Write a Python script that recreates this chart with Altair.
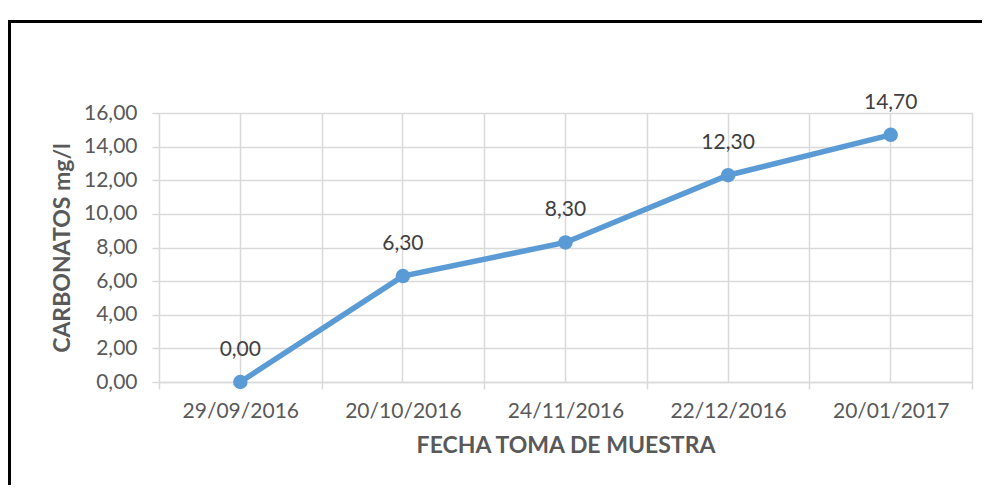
import altair as alt
import pandas as pd

fechas = ["29/09/2016", "20/10/2016", "24/11/2016", "22/12/2016", "20/01/2017"]
carbonatos = [0.0, 6.3, 8.3, 12.3, 14.7]
y_ticks = [0, 2, 4, 6, 8, 10, 12, 14, 16]

df = pd.DataFrame({"fecha": fechas, "valor": carbonatos})

FONT = "Lato"
BLUE = "#5B9BD5"
GRID = "#D9D9D9"
TXT = "#595959"

W, H = 813, 269

x_main = alt.X(
    "fecha:N",
    sort=fechas,
    scale=alt.Scale(type="band", paddingInner=0, paddingOuter=0),
    axis=alt.Axis(
        title="FECHA TOMA DE MUESTRA",
        orient="bottom",
        tickBand="extent",
        grid=True,
        gridColor=GRID,
        gridWidth=1.5,
        domainColor=GRID,
        domainWidth=1.5,
        tickColor=GRID,
        tickWidth=1.5,
        tickSize=7,
        labelAngle=0,
        labelFont=FONT,
        labelFontSize=21,
        labelColor=TXT,
        labelPadding=11,
        titleFont=FONT,
        titleFontSize=23,
        titleFontWeight="bold",
        titleColor=TXT,
        titlePadding=13,
    ),
)

y_main = alt.Y(
    "valor:Q",
    scale=alt.Scale(domain=[0, 16], nice=False),
    axis=alt.Axis(
        title="CARBONATOS mg/l",
        values=y_ticks,
        labelExpr="replace(format(datum.value, '.2f'), '.', ',')",
        grid=True,
        gridColor=GRID,
        gridWidth=1.5,
        domain=False,
        tickColor=GRID,
        tickWidth=1.5,
        tickSize=7,
        labelFont=FONT,
        labelFontSize=21,
        labelColor=TXT,
        labelPadding=15,
        titleFont=FONT,
        titleFontSize=23,
        titleFontWeight="bold",
        titleColor=TXT,
        titlePadding=9,
    ),
)

x_plain = alt.X("fecha:N", sort=fechas, axis=None)

base = alt.Chart(df)

line = base.mark_line(color=BLUE, strokeWidth=5.5).encode(x=x_main, y=y_main)

center_grid = base.mark_point(opacity=0).encode(
    x=alt.X(
        "fecha:N",
        sort=fechas,
        axis=alt.Axis(
            title=None,
            labels=False,
            ticks=False,
            domain=False,
            grid=True,
            gridColor=GRID,
            gridWidth=1.5,
            orient="bottom",
        ),
    ),
    y=y_main,
)

points = base.mark_circle(color=BLUE, size=210, opacity=1).encode(x=x_plain, y=y_main)

labels = base.transform_calculate(
    lab="replace(format(datum.valor, '.2f'), '.', ',')"
).mark_text(font=FONT, fontSize=21, color="#404040", dy=-32, baseline="middle").encode(
    x=x_plain, y=y_main, text="lab:N"
)

border = alt.Chart(pd.DataFrame({"a": [0]})).mark_rect(
    filled=False, stroke="black", strokeWidth=3
).encode(
    x=alt.value(-149.5), x2=alt.value(W + 300), y=alt.value(-91.5), y2=alt.value(H + 300)
)

chart = (
    alt.layer(line, center_grid, points, labels, border)
    .resolve_axis(x="independent")
    .properties(
        width=W,
        height=H,
        autosize=alt.AutoSizeParams(type="none"),
        padding={"left": 151, "top": 105, "right": 10, "bottom": 103},
    )
    .configure_view(stroke=None)
    .configure(background="white")
)

chart.save("out.html", embed_options={"renderer": "svg", "actions": False})
